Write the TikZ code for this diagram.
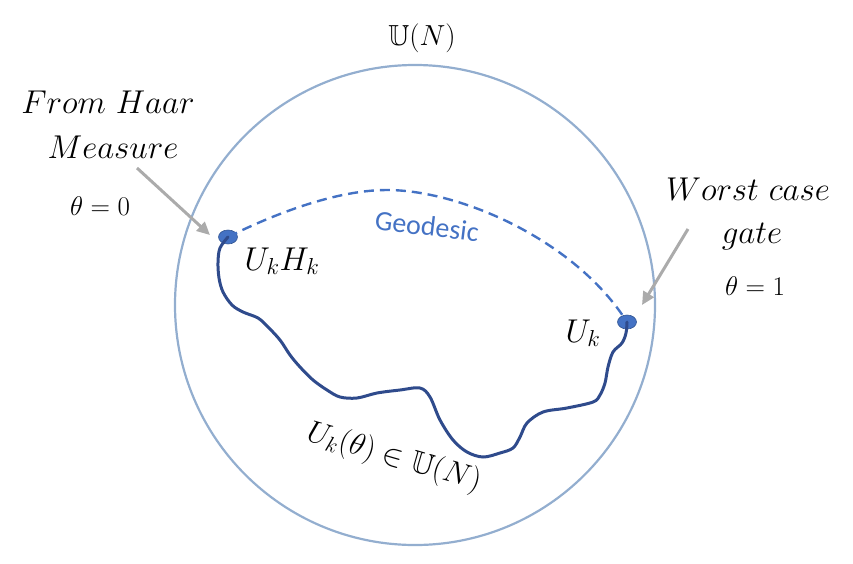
\RequirePackage{fix-cm}
\documentclass[tikz,border=0pt]{standalone}
\usepackage{amsmath,amssymb}
\usepackage{fontspec}
\newfontfamily\calfont{Carlito}
\usetikzlibrary{arrows.meta,shapes.geometric}
\definecolor{rim}{HTML}{93AECF}
\definecolor{pathblue}{HTML}{2F4B8C}
\definecolor{dotblue}{HTML}{4472C4}
\definecolor{pointgray}{HTML}{ABABAB}
\newcommand\fsz[1]{\fontsize{#1}{#1}\selectfont}
\tikzset{
  rimline/.style={draw=rim,line width=2.2pt},
  gatedot/.style={ellipse,fill=dotblue,draw=dotblue!75!black,line width=0.6pt,
                  minimum width=19pt,minimum height=14pt,inner sep=0pt},
  walkline/.style={draw=pathblue,line width=3pt,line cap=round,line join=round},
  geoline/.style={draw=dotblue,line width=2.4pt,dash pattern=on 10pt off 6pt},
  pointarr/.style={-{Triangle[length=13pt,width=12pt]},color=pointgray,line width=3pt},
  bigmath/.style={font=\fsz{33},anchor=base,inner sep=0pt},
  smallmath/.style={font=\fsz{27},anchor=base,inner sep=0pt}
}
\begin{document}
\begin{tikzpicture}[x=1pt,y=-1pt]
  \useasboundingbox (0,0) rectangle (853,563);
  % the group as a ball
  \node[circle,rimline,minimum size=480pt,inner sep=0pt] (ball) at (415,305) {};
  \node[font=\fsz{29},anchor=base,inner sep=0pt] (group) at (422,45) {$\mathbb{U}(N)$};

  % end points
  \node[gatedot] (hdot) at (228,237) {};
  \node[gatedot] (udot) at (627,322) {};
  \node[bigmath] (hlabel) at (282,270) {$U_kH_k$};
  \node[bigmath] (ulabel) at (583,342) {$U_k$};

  % geodesic
  \draw[geoline] (hdot.center) .. controls (262,220) and (330,190) .. (387,190)
    .. controls (460,190) and (575,240) .. (udot.center);
  \node[font=\calfont\fsz{28},text=dotblue,rotate=-7] (geo) at (427,226) {Geodesic};

  % wandering path
  \draw[walkline] plot[smooth,tension=0.55] coordinates {(hdot.center) (220,248) (218,262)
    (219,278) (223,292) (232,305) (243,312) (258,318) (268,327) (280,340) (290,355)
    (300,367) (313,380) (327,390) (340,397) (357,398) (377,393) (400,390) (420,388)
    (430,397) (440,420) (453,440) (467,452) (483,457) (500,453) (513,448) (520,437)
    (527,423) (543,412) (567,408) (593,402) (600,395) (605,383) (608,367) (613,352)
    (622,343) (626,333) (udot.center)};
  \node[font=\fsz{31},rotate=-16] (walk) at (394,458) {$U_k(\theta)\in\mathbb{U}(N)$};

  % left annotation
  \node[bigmath] (haar) at (108,113) {$From\ Haar$};
  \node[bigmath] (measure) at (113,158) {$Measure$};
  \node[smallmath] (theta0) at (100,215) {$\theta=0$};
  \coordinate (haarfrom) at (137,168);
  \coordinate (haartip) at (210,235);
  \draw[pointarr] (haarfrom) -- (haartip);

  % right annotation
  \node[bigmath] (worst) at (748,200) {$Worst\ case$};
  \node[bigmath] (gate) at (752,243) {$gate$};
  \node[smallmath] (theta1) at (755,295) {$\theta=1$};
  \coordinate (worstfrom) at (688,229);
  \coordinate (worsttip) at (642,305);
  \draw[pointarr] (worstfrom) -- (worsttip);
\end{tikzpicture}
\end{document}
